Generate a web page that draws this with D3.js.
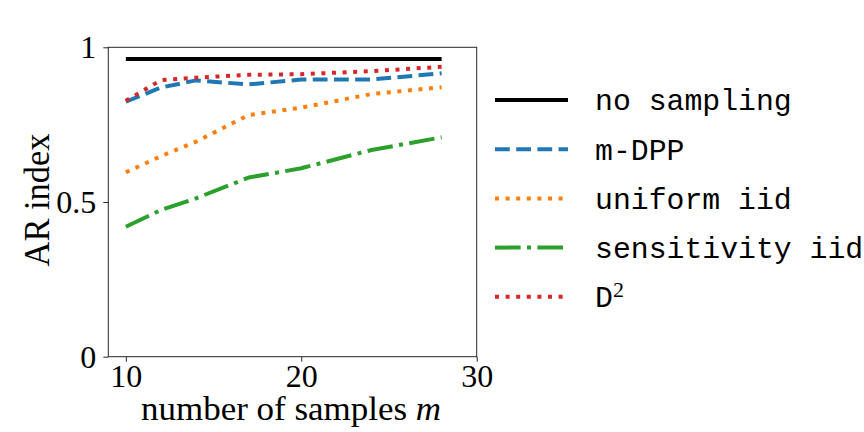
<!DOCTYPE html>
<html>
<head>
<meta charset="utf-8">
<script src="https://cdn.jsdelivr.net/npm/d3@7"></script>
<style>
  body { margin: 0; background: #fff; }
  svg { display: block; }
</style>
</head>
<body>
<div id="chart"></div>
<script>
// sample sizes m
const samples = [10, 12, 14, 17, 20, 24, 28];

// AR index per method
const noSampling   = [0.962, 0.962, 0.962, 0.962, 0.962, 0.962, 0.962];
const mDPP         = [0.824, 0.870, 0.893, 0.880, 0.896, 0.896, 0.916];
const uniformIid   = [0.596, 0.648, 0.695, 0.781, 0.805, 0.849, 0.871];
const sensitivity  = [0.420, 0.474, 0.512, 0.579, 0.609, 0.668, 0.709];
const dSquared     = [0.827, 0.894, 0.902, 0.911, 0.913, 0.923, 0.937];

const xTicks = [10, 20, 30];
const yTicks = [0, 0.5, 1];
const yTickLabels = ['0', '0.5', '1'];

const series = [
  { name: 'no sampling', values: noSampling, color: '#000000', dash: null },
  { name: 'm-DPP', values: mDPP, color: '#1f77b4', dash: '14.8,6.4' },
  { name: 'uniform iid', values: uniformIid, color: '#ff7f0e', dash: '4,6.6' },
  { name: 'sensitivity iid', values: sensitivity, color: '#2ca02c', dash: '25.6,6.4,4,6.4' },
  { name: 'D2', values: dSquared, color: '#d62728', dash: '4,6.6' }
];

const W = 864, H = 432;
const margin = { top: 47.3, right: 387.3, bottom: 75.3, left: 108.3 };
const width = W - margin.left - margin.right;
const height = H - margin.top - margin.bottom;

const svg = d3.select('#chart')
  .append('svg')
    .attr('width', W)
    .attr('height', H);

const g = svg.append('g')
  .attr('transform', `translate(${margin.left},${margin.top})`);

const x = d3.scaleLinear().domain([9, 30]).range([0, width]);
const y = d3.scaleLinear().domain([0, 1]).range([height, 0]);

const serif = '"Liberation Serif", "DejaVu Serif", serif';
const mono = '"Liberation Mono", "DejaVu Sans Mono", monospace';

// axes
const xAxis = g.append('g')
  .attr('transform', `translate(0,${height})`)
  .call(d3.axisBottom(x).tickValues(xTicks).tickFormat(d3.format('d')).tickSizeOuter(0).tickSize(5));
const yAxis = g.append('g')
  .call(d3.axisLeft(y).tickValues(yTicks).tickFormat((d, i) => yTickLabels[i]).tickSizeOuter(0).tickSize(5).tickPadding(7));

[xAxis, yAxis].forEach(a => {
  a.select('.domain').remove();
  a.selectAll('line').attr('stroke', '#262626').attr('stroke-width', 1);
  a.selectAll('text')
    .attr('fill', '#000')
    .style('font-family', serif)
    .style('font-size', '32px');
});
xAxis.selectAll('text').attr('y', 30.5).attr('dy', 0);
yAxis.selectAll('text').attr('dy', '0.33em');

// frame
g.append('rect')
  .attr('width', width)
  .attr('height', height)
  .attr('fill', 'none')
  .attr('stroke', '#262626')
  .attr('stroke-width', 1);

// lines
const line = d3.line()
  .x((d, i) => x(samples[i]))
  .y(d => y(d));

g.selectAll('.series')
  .data(series)
  .enter()
  .append('path')
    .attr('class', 'series')
    .attr('d', d => line(d.values))
    .attr('fill', 'none')
    .attr('stroke', d => d.color)
    .attr('stroke-width', 4)
    .attr('stroke-dasharray', d => d.dash)
    .attr('stroke-linecap', 'butt')
    .attr('stroke-linejoin', 'round');

// axis titles
svg.append('text')
  .attr('x', 291)
  .attr('y', 420)
  .attr('text-anchor', 'middle')
  .style('font-family', serif)
  .style('font-size', '33px')
  .attr('textLength', 300)
  .attr('lengthAdjust', 'spacingAndGlyphs')
  .html('number of samples <tspan font-style="italic">m</tspan>');

svg.append('text')
  .attr('transform', 'translate(49,200) rotate(-90)')
  .attr('text-anchor', 'middle')
  .style('font-family', serif)
  .style('font-size', '35px')
  .attr('textLength', 133)
  .attr('lengthAdjust', 'spacingAndGlyphs')
  .text('AR index');

// legend
const legend = svg.append('g').attr('transform', 'translate(495,100)');
const rows = legend.selectAll('g')
  .data(series)
  .enter()
  .append('g')
    .attr('transform', (d, i) => `translate(0,${i * 49.2})`);

rows.append('line')
  .attr('x1', 0).attr('x2', 73)
  .attr('stroke', d => d.color)
  .attr('stroke-width', 4)
  .attr('stroke-dasharray', d => d.dash);

rows.append('text')
  .attr('x', 100)
  .attr('dy', '0.35em')
  .style('font-family', mono)
  .style('font-size', '29.8px')
  .each(function(d) {
    const t = d3.select(this);
    if (d.name === 'D2') {
      t.text('D');
      t.append('tspan')
        .attr('dy', '-0.45em')
        .style('font-family', serif)
        .style('font-size', '22px')
        .text('2');
    } else {
      t.text(d.name);
    }
  });
</script>
</body>
</html>
